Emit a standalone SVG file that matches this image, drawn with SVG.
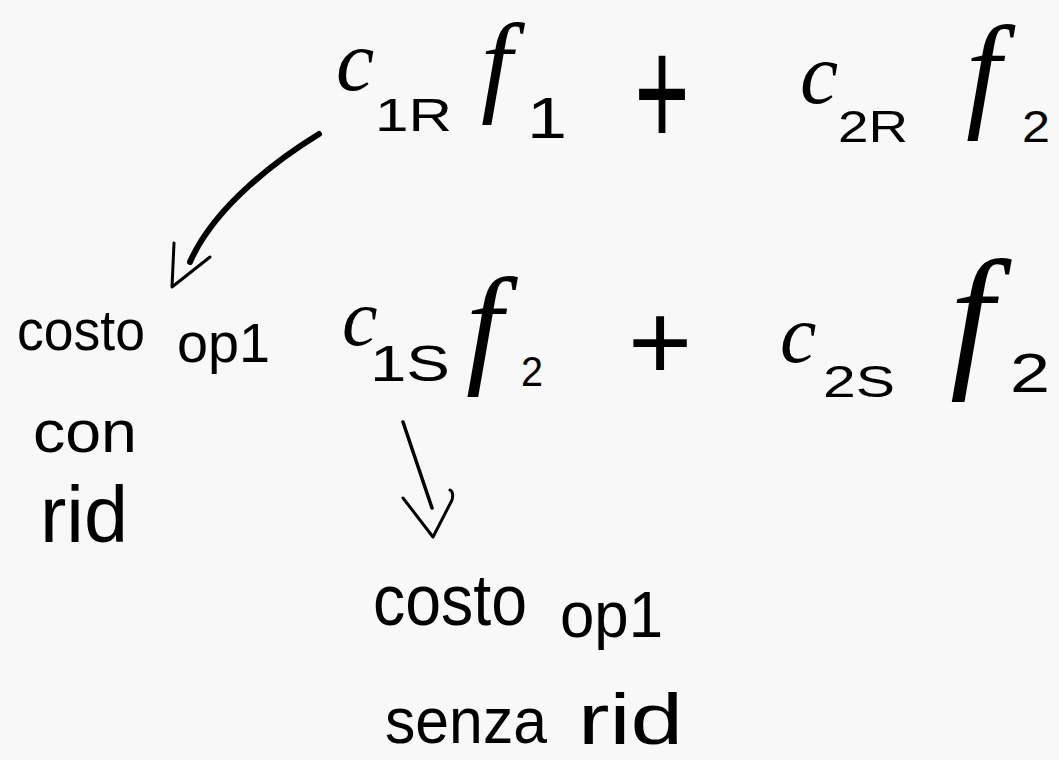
<svg xmlns="http://www.w3.org/2000/svg" width="1059" height="760" viewBox="0 0 1059 760">
  <style>
    .v { font-family: "Liberation Serif", "DejaVu Serif", serif; font-style: italic; fill: #000; }
    .s { font-family: "Liberation Sans", "DejaVu Sans", sans-serif; fill: #000; }
    .ln { fill: none; stroke: #000; stroke-linecap: round; stroke-linejoin: round; }
  </style>
  <rect width="1059" height="760" fill="#f8f8f8"/>

  <g id="expr-top">
    <text class="v" x="336" y="90" font-size="86">c</text>
    <text class="s" x="375" y="131" font-size="46" textLength="77" lengthAdjust="spacingAndGlyphs">1R</text>
    <text class="v" x="481" y="101" font-size="112">f</text>
    <text class="s" x="527" y="138" font-size="58" textLength="40" lengthAdjust="spacingAndGlyphs">1</text>
    <text class="s" transform="translate(662,147) scale(0.8,1.33)" x="0" y="0" font-size="118" text-anchor="middle">+</text>
    <text class="v" x="800" y="103" font-size="86">c</text>
    <text class="s" x="838" y="142" font-size="44" textLength="70" lengthAdjust="spacingAndGlyphs">2R</text>
    <text class="v" x="966" y="114" font-size="126">f</text>
    <text class="s" x="1022" y="142" font-size="44" textLength="28" lengthAdjust="spacingAndGlyphs">2</text>
  </g>

  <g id="expr-mid">
    <text class="s" x="17" y="350" font-size="58" textLength="128" lengthAdjust="spacingAndGlyphs">costo</text>
    <text class="s" x="177" y="362" font-size="55" textLength="93" lengthAdjust="spacingAndGlyphs">op1</text>
    <text class="v" x="342" y="345" font-size="80">c</text>
    <text class="s" x="370" y="381" font-size="50" textLength="80" lengthAdjust="spacingAndGlyphs">1S</text>
    <text class="v" x="466" y="369" font-size="132">f</text>
    <text class="s" x="521" y="386" font-size="42" textLength="22" lengthAdjust="spacingAndGlyphs">2</text>
    <text class="s" x="660" y="380" font-size="110" text-anchor="middle">+</text>
    <text class="v" x="780" y="362" font-size="82">c</text>
    <text class="s" x="823" y="397" font-size="44" textLength="72" lengthAdjust="spacingAndGlyphs">2S</text>
    <text class="v" x="950" y="369" font-size="157">f</text>
    <text class="s" x="1010" y="392" font-size="55" textLength="40" lengthAdjust="spacingAndGlyphs">2</text>
  </g>

  <g id="label-con-rid">
    <text class="s" x="33" y="452" font-size="60" textLength="104" lengthAdjust="spacingAndGlyphs">con</text>
    <text class="s" x="40" y="542" font-size="80" textLength="88" lengthAdjust="spacingAndGlyphs">rid</text>
  </g>

  <g id="label-senza-rid">
    <text class="s" x="373" y="625" font-size="72" textLength="154" lengthAdjust="spacingAndGlyphs">costo</text>
    <text class="s" x="560" y="637" font-size="65" textLength="103" lengthAdjust="spacingAndGlyphs">op1</text>
    <text class="s" x="385" y="743" font-size="64" textLength="162" lengthAdjust="spacingAndGlyphs">senza</text>
    <text class="s" x="578" y="744" font-size="72" textLength="105" lengthAdjust="spacingAndGlyphs">rid</text>
  </g>

  <g id="connectors">
    <path class="ln" stroke-width="6" d="M319,134 C280,158 215,205 190,262"/>
    <path class="ln" stroke-width="3" d="M174,243 L172,287 L210,257"/>
    <path class="ln" stroke-width="3.5" d="M403,422 L432,508"/>
    <path class="ln" stroke-width="3" d="M403,498 L433,537 L452,500 Q454,492 450,490"/>
  </g>
</svg>
